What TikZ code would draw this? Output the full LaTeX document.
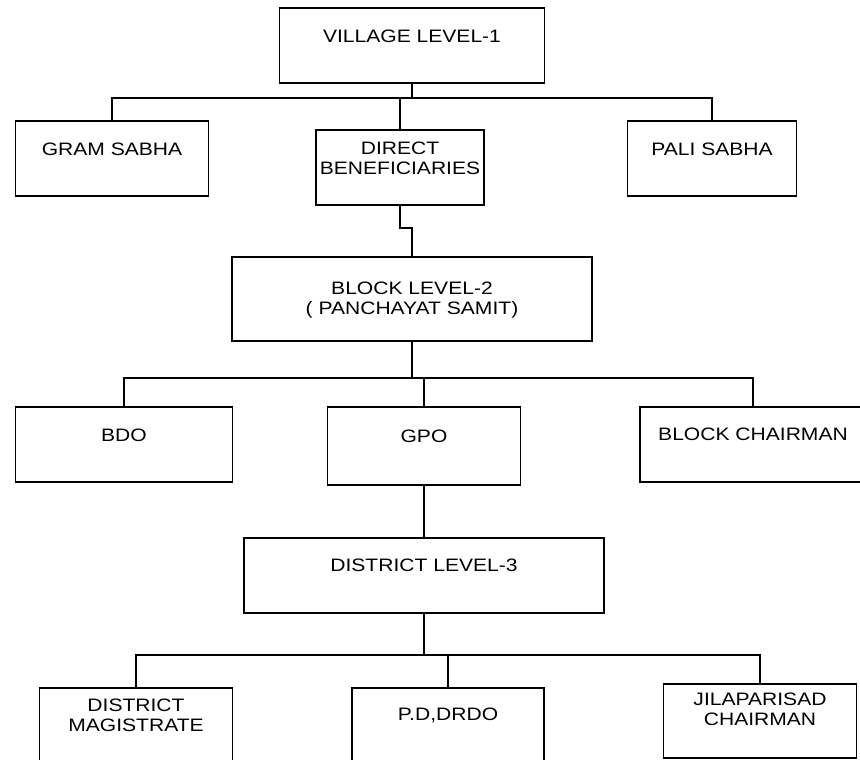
\documentclass[tikz,border=0pt]{standalone}
\usepackage{fontspec}
\setmainfont{Liberation Sans}[FakeStretch=1.17]
\tikzset{
	post/.style={draw, line width=1.8pt, rectangle, inner sep=0pt, anchor=north, align=center,
		minimum width=#1, text height=34.5pt, text depth=40.5pt, font=\fontsize{18}{20}\selectfont},
	wire/.style={line width=1.8pt}
}
\begin{document}
\begin{tikzpicture}[x=1pt, y=-1pt]
		%%%%% START %%%%%
		\useasboundingbox (0, 0) rectangle (860, 760);
		
		% level 1
		\node[post=265pt] (village) at (412, 7) {VILLAGE LEVEL-1};
		\node[post=193pt] (gram) at (112, 120) {GRAM SABHA};
		\node[post=168pt, text height=44.5pt, text depth=30.5pt] (db) at (400, 129) {DIRECT\\BENEFICIARIES};
		\node[post=169pt] (pali) at (712, 120) {PALI SABHA};
		
		% level 2
		\node[post=360pt, text height=57.5pt, text depth=26.5pt] (block) at (412, 256) {BLOCK LEVEL-2\\( PANCHAYAT SAMIT)};
		\node[post=217pt] (bdo) at (124, 406) {BDO};
		\node[post=193pt, text height=35.5pt, text depth=42.5pt] (gpo) at (424, 406) {GPO};
		\node[post=226pt, text height=33.5pt, text depth=41.5pt] (chair) at (753, 406) {BLOCK CHAIRMAN};
		
		% level 3
		\node[post=360pt, text height=33.5pt, text depth=41.5pt] (district) at (424, 537) {DISTRICT LEVEL-3};
		\node[post=193pt, text height=43.5pt, text depth=34.5pt] (magis) at (136, 687) {DISTRICT\\MAGISTRATE};
		\node[post=192pt, text height=32.5pt, text depth=45.5pt] (pddrdo) at (448, 687) {P.D,DRDO};
		\node[post=193pt, text height=41.5pt, text depth=32.5pt] (jila) at (760, 683) {JILAPARISAD\\CHAIRMAN};
		
		\coordinate (bus1) at (0, 98);
		\coordinate (jog) at (0, 228);
		\coordinate (bus2) at (0, 378);
		\coordinate (bus3) at (0, 655);
		
		\draw[wire] (village.south) -- (village.south |- bus1);
		\draw[wire] (gram.north) -- (gram.north |- bus1) -| (pali.north);
		\draw[wire] (db.north) -- (db.north |- bus1);
		\draw[wire] (db.south) -- (db.south |- jog) -| (block.north);
		
		\draw[wire] (block.south) -- (block.south |- bus2);
		\draw[wire] (bdo.north) -- (bdo.north |- bus2) -| (chair.north);
		\draw[wire] (gpo.north) -- (gpo.north |- bus2);
		\draw[wire] (gpo.south) -- (gpo.south |- district.north);
		
		\draw[wire] (district.south) -- (district.south |- bus3);
		\draw[wire] (magis.north) -- (magis.north |- bus3) -| (jila.north);
		\draw[wire] (pddrdo.north) -- (pddrdo.north |- bus3);
		%%%%% END %%%%%
\end{tikzpicture}
\end{document}
